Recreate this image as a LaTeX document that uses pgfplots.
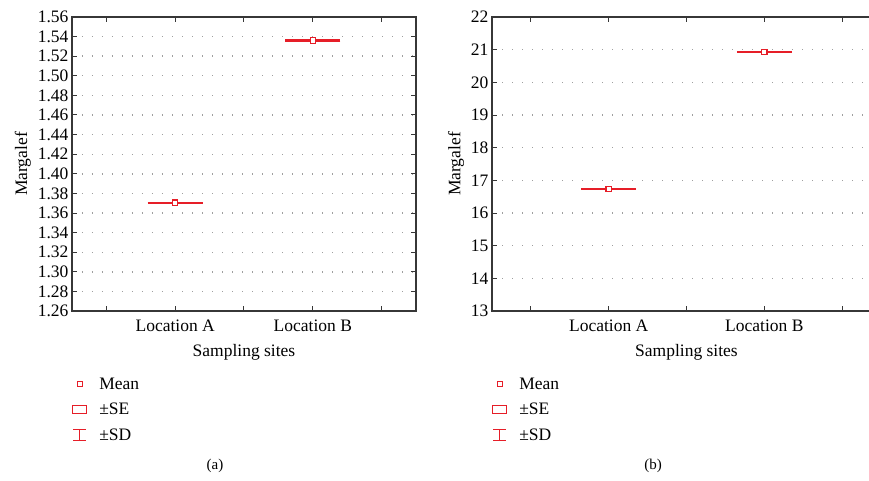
\documentclass[border=0pt]{standalone}
\usepackage{fontspec}
\setmainfont{Liberation Serif}
\usepackage{pgfplots}
\pgfplotsset{compat=1.18}
\definecolor{sred}{RGB}{230,30,40}
\definecolor{axgray}{RGB}{55,55,55}
\pgfplotsset{
 mystyle/.style={
  scale only axis, height=294bp,
  xmin=-0.75, xmax=1.75,
  xtick={-0.5,0,0.5,1,1.5}, xticklabels={,Location A,,Location B,},
  tick align=inside, major tick length=5bp,
  every tick/.style={axgray, line width=1bp},
  axis line style={axgray, line width=1.3bp},
  ymajorgrids, major grid style={dash pattern=on 1.4bp off 8.6bp, gray!75, line width=1.4bp},
  font=\fontsize{17.5bp}{21bp}\selectfont,
  xlabel={Sampling sites}, ylabel={Margalef},
  xticklabel style={yshift=-5bp},
  xlabel style={yshift=-6bp},
  /pgf/number format/assume math mode=true,
  legend style={at={(0,-0.219)}, anchor=north west, draw=none, fill=none, inner sep=0pt,
    cells={anchor=west}, row sep=8.5bp, column sep=10bp, font=\fontsize{17.5bp}{21bp}\selectfont},
 },
 meanimg/.style={legend image code/.code={\draw[sred,fill=white,line width=1.2bp] (4.5bp,-2.5bp) rectangle (9.5bp,2.5bp);}},
 seimg/.style={legend image code/.code={\draw[sred,line width=1.1bp] (0bp,-4bp) rectangle (14bp,4bp);}},
 sdimg/.style={legend image code/.code={\draw[sred,line width=1.1bp] (0.5bp,-5.5bp)--(13.5bp,-5.5bp) (0.5bp,5.5bp)--(13.5bp,5.5bp) (7bp,-5.5bp)--(7bp,5.5bp);}},
 sdbars/.style={forget plot, only marks, mark=none, sred,
   error bars/.cd, y dir=both, y explicit, error mark=|,
   error bar style={sred, line width=1.3bp},
   error mark options={sred, line width=1.3bp, mark size=27.5bp}},
 sebox/.style={forget plot, sred, line width=1.5bp, mark=none},
 meanpt/.style={forget plot, only marks, mark=square*, mark size=2.7bp, mark options={sred, fill=white, line width=1.2bp, solid}},
}
\begin{document}
\begin{tikzpicture}
\begin{axis}[mystyle, width=344bp,
  ymin=1.26, ymax=1.56,
  ytick={1.26,1.28,1.30,1.32,1.34,1.36,1.38,1.40,1.42,1.44,1.46,1.48,1.50,1.52,1.54,1.56},
  yticklabel style={/pgf/number format/.cd, fixed, fixed zerofill, precision=2},
]
\addlegendimage{meanimg}\addlegendentry{Mean}
\addlegendimage{seimg}\addlegendentry{±SE}
\addlegendimage{sdimg}\addlegendentry{±SD}
% SD whiskers
\addplot[sdbars] coordinates {(0,1.3705) +- (0,0.0005) (1,1.5360) +- (0,0.0005)};
% SE boxes
\addplot[sebox] coordinates {(-0.145,1.3703) (0.145,1.3703) (0.145,1.3707) (-0.145,1.3707) (-0.145,1.3703)};
\addplot[sebox] coordinates {(0.855,1.5358) (1.145,1.5358) (1.145,1.5362) (0.855,1.5362) (0.855,1.5358)};
% means
\addplot[meanpt] coordinates {(0,1.3705) (1,1.5360)};
\end{axis}
\begin{axis}[mystyle, width=389bp, at={(420bp,0)},
  ymin=13, ymax=22, ytick={13,14,15,16,17,18,19,20,21,22},
]
\addlegendimage{meanimg}\addlegendentry{Mean}
\addlegendimage{seimg}\addlegendentry{±SE}
\addlegendimage{sdimg}\addlegendentry{±SD}
\addplot[sdbars] coordinates {(0,16.73) +- (0,0.02) (1,20.93) +- (0,0.02)};
\addplot[sebox] coordinates {(-0.145,16.72) (0.145,16.72) (0.145,16.74) (-0.145,16.74) (-0.145,16.72)};
\addplot[sebox] coordinates {(0.855,20.92) (1.145,20.92) (1.145,20.94) (0.855,20.94) (0.855,20.92)};
\addplot[meanpt] coordinates {(0,16.73) (1,20.93)};
\end{axis}
\node[font=\fontsize{15bp}{18bp}\selectfont] at (143bp,-155bp) {(a)};
\node[font=\fontsize{15bp}{18bp}\selectfont] at (581bp,-155bp) {(b)};
\pgfresetboundingbox
\path[use as bounding box] (-72bp,-170bp) rectangle (797bp,311bp);
\end{tikzpicture}
\end{document}
